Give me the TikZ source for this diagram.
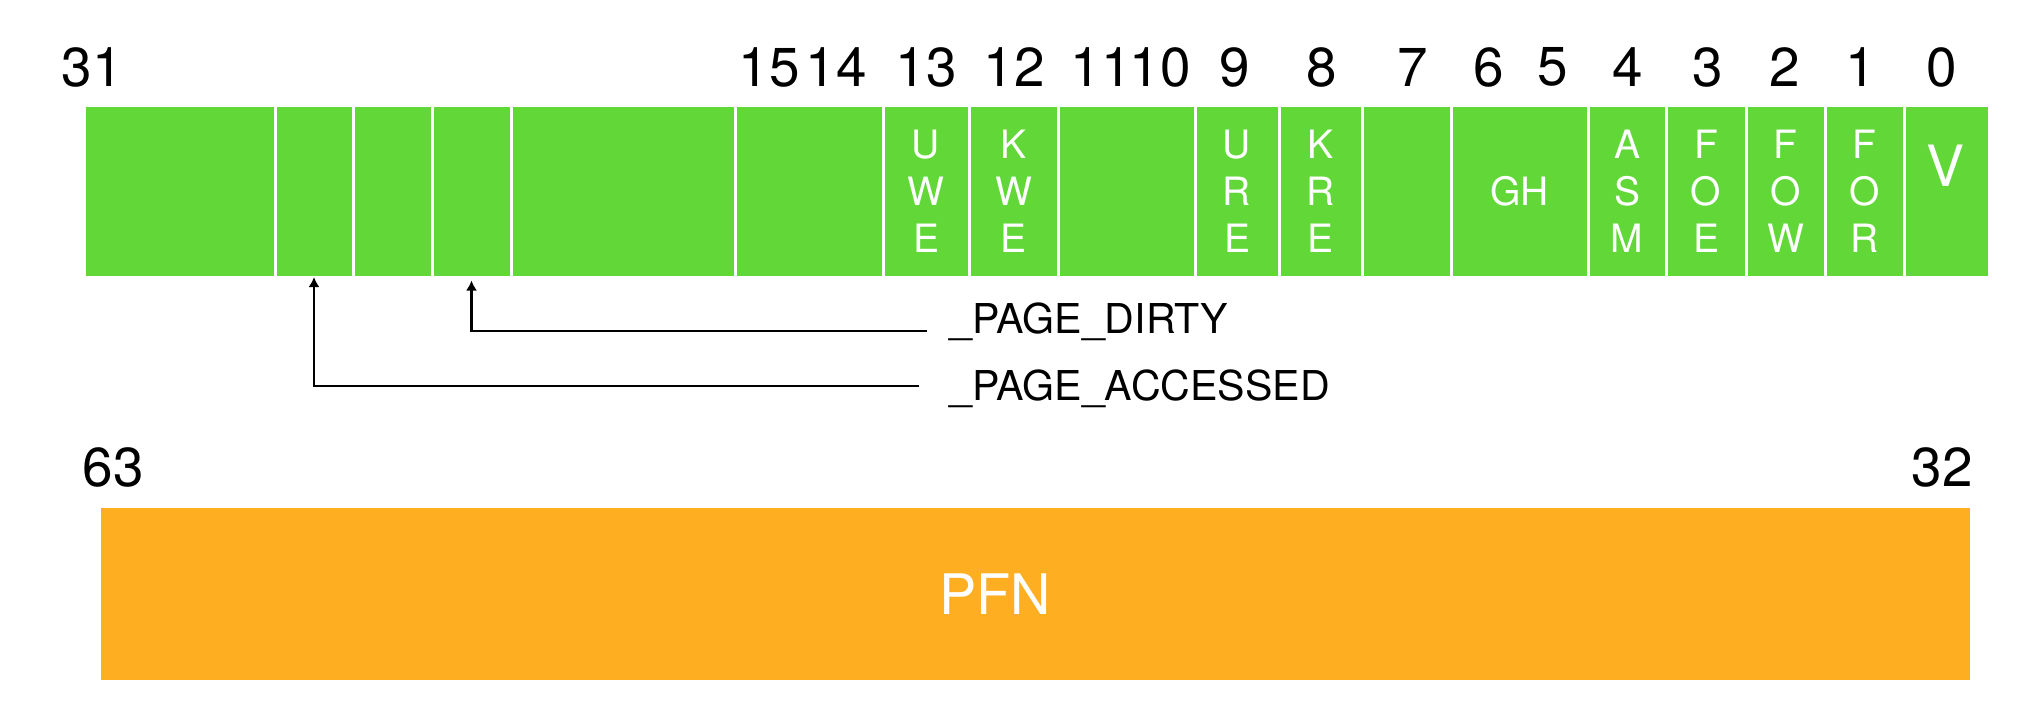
\documentclass[tikz,border=0pt]{standalone}
\usepackage{fontspec}
\setmainfont{TeX Gyre Heros}
\usetikzlibrary{arrows.meta}
\definecolor{bitgreen}{RGB}{98,216,56}
\definecolor{pfnorange}{RGB}{254,174,33}

\begin{document}
\begin{tikzpicture}[>={Latex[length=1mm,width=1.1mm]},
	cell/.style={draw=white, line width=0.03cm, fill=bitgreen, minimum height=1.72cm, inner sep=0pt, outer sep=0pt, text=white, align=center, font=\fontsize{11.1}{13.4}\selectfont},
	bitno/.style={inner sep=0pt, font=\fontsize{15.6}{18}\selectfont},
	note/.style={inner sep=0pt, anchor=base west, font=\fontsize{11.7}{14}\selectfont}]
	\useasboundingbox (0,0) rectangle (20.35,-7.21);
	\node[cell, minimum width=1.91cm] (sw1) at (1.795,-1.91) {};
	\node[cell, minimum width=0.78cm] (acc) at (3.14,-1.91) {};
	\node[cell, minimum width=0.79cm] (sw2) at (3.925,-1.91) {};
	\node[cell, minimum width=0.79cm] (dirty) at (4.715,-1.91) {};
	\node[cell, minimum width=2.24cm] (sw3) at (6.23,-1.91) {};
	\node[cell, minimum width=1.48cm] (b15) at (8.09,-1.91) {};
	\node[cell, minimum width=0.86cm] (uwe) at (9.26,-1.91) {U\\W\\E};
	\node[cell, minimum width=0.89cm] (kwe) at (10.135,-1.91) {K\\W\\E};
	\node[cell, minimum width=1.37cm] (b11) at (11.265,-1.91) {};
	\node[cell, minimum width=0.84cm] (ure) at (12.37,-1.91) {U\\R\\E};
	\node[cell, minimum width=0.83cm] (kre) at (13.205,-1.91) {K\\R\\E};
	\node[cell, minimum width=0.89cm] (b7) at (14.065,-1.91) {};
	\node[cell, minimum width=1.37cm] (gh) at (15.195,-1.91) {GH};
	\node[cell, minimum width=0.78cm] (asm) at (16.27,-1.91) {A\\S\\M};
	\node[cell, minimum width=0.80cm] (foe) at (17.06,-1.91) {F\\O\\E};
	\node[cell, minimum width=0.79cm] (fow) at (17.855,-1.91) {F\\O\\W};
	\node[cell, minimum width=0.79cm] (for) at (18.645,-1.91) {F\\O\\R};
	\node[cell, minimum width=0.85cm] (v) at (19.465,-1.91) {};
	\node[bitno, text=white, font=\fontsize{16.2}{18}\selectfont] (vtxt) at (19.45,-1.66) {V};
	\node[bitno] (n31) at (0.92,-0.67) {31};
	\node[bitno] (n15) at (7.69,-0.67) {15};
	\node[bitno] (n14) at (8.36,-0.67) {14};
	\node[bitno] (n13) at (9.26,-0.67) {13};
	\node[bitno] (n12) at (10.14,-0.67) {12};
	\node[bitno] (n11) at (11.01,-0.67) {11};
	\node[bitno] (n10) at (11.60,-0.67) {10};
	\node[bitno] (n9) at (12.35,-0.67) {9};
	\node[bitno] (n8) at (13.22,-0.67) {8};
	\node[bitno] (n7) at (14.13,-0.67) {7};
	\node[bitno] (n6) at (14.89,-0.67) {6};
	\node[bitno] (n5) at (15.53,-0.67) {5};
	\node[bitno] (n4) at (16.28,-0.67) {4};
	\node[bitno] (n3) at (17.08,-0.67) {3};
	\node[bitno] (n2) at (17.85,-0.67) {2};
	\node[bitno] (n1) at (18.61,-0.67) {1};
	\node[bitno] (n0) at (19.42,-0.67) {0};
	\node[note] (pdirty) at (9.49,-3.33) {\_PAGE\_DIRTY};
	\node[note] (paccessed) at (9.49,-4.00) {\_PAGE\_ACCESSED};
	\coordinate (dirtyend) at (9.27,-3.31);
	\coordinate (accend) at (9.19,-3.86);
	\draw[->, line width=0.75pt] (dirtyend) -| ([yshift=-0.035cm]dirty.south);
	\draw[->, line width=0.75pt] (accend) -| (acc.south);
	\node[bitno] (n63) at (1.13,-4.67) {63};
	\node[bitno] (n32) at (19.42,-4.67) {32};
	\node[fill=pfnorange, minimum width=18.69cm, minimum height=1.72cm, inner sep=0pt] (pfnbar) at (10.355,-5.94) {};
	\node[bitno, text=white, font=\fontsize{15.9}{18}\selectfont] (pfn) at (9.95,-5.94) {PFN};
\end{tikzpicture}
\end{document}
